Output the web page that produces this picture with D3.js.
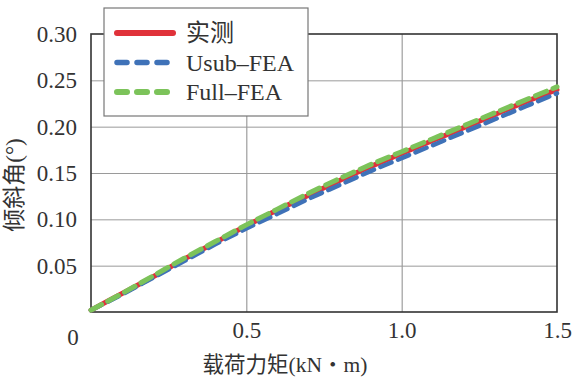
<!DOCTYPE html>
<html>
<head>
<meta charset="utf-8">
<script src="https://cdn.jsdelivr.net/npm/d3@7"></script>
<style>
  body { margin: 0; background: #fff; }
</style>
</head>
<body>
<div id="viz"></div>
<script>
// moment (kN·m) and tilt angle (deg)
var moment = [0, 0.1, 0.2, 0.3, 0.4, 0.5, 0.6, 0.7, 0.8, 0.9, 1.0, 1.1, 1.2, 1.3, 1.4, 1.5];
var measured = [0.002, 0.020, 0.038, 0.057, 0.075, 0.093, 0.110, 0.126, 0.142, 0.157, 0.171, 0.185, 0.199, 0.213, 0.227, 0.240];
var usubFEA = [0.002, 0.019, 0.037, 0.055, 0.073, 0.090, 0.106, 0.122, 0.137, 0.152, 0.166, 0.180, 0.194, 0.208, 0.222, 0.236];
var fullFEA = [0.002, 0.020, 0.039, 0.058, 0.076, 0.094, 0.111, 0.128, 0.144, 0.159, 0.173, 0.187, 0.201, 0.215, 0.229, 0.243];

var xTicks = [0.5, 1.0, 1.5];
var yTicks = [0.05, 0.10, 0.15, 0.20, 0.25, 0.30];
var seriesNames = ["实测", "Usub\u2013FEA", "Full\u2013FEA"];

var FONT = "'Liberation Serif', 'Noto Sans CJK SC', serif";
var TXT = "#333";

var width = 587, height = 387;
var margin = { top: 34, right: 30, bottom: 75, left: 91 };
var w = width - margin.left - margin.right,
  h = height - margin.top - margin.bottom;

var svg = d3.select("#viz").append("svg")
  .attr("width", width)
  .attr("height", height)
  .attr("font-family", FONT);

var g = svg.append("g")
  .attr("transform", "translate(" + margin.left + "," + margin.top + ")");

var xScale = d3.scaleLinear().domain([0, 1.5]).range([0, w]);
var yScale = d3.scaleLinear().domain([0, 0.30]).range([h, 0]);

// grid
g.append("g").attr("class", "grid")
  .attr("transform", "translate(0," + h + ")")
  .call(d3.axisBottom(xScale).tickValues([0.5, 1.0]).tickSize(-h).tickFormat(""))
  .call(function (s) { s.select(".domain").remove(); })
  .selectAll("line").attr("stroke", "#8a8a8a").attr("stroke-width", 1);

g.append("g").attr("class", "grid")
  .call(d3.axisLeft(yScale).tickValues([0.05, 0.10, 0.15, 0.20, 0.25]).tickSize(-w).tickFormat(""))
  .call(function (s) { s.select(".domain").remove(); })
  .selectAll("line").attr("stroke", "#9a9a9a").attr("stroke-width", 1);

// frame
g.append("rect")
  .attr("x", 0).attr("y", 0)
  .attr("width", w).attr("height", h)
  .attr("fill", "none")
  .attr("stroke", "#333")
  .attr("stroke-width", 1.6);

// tick labels
var xAxis = g.append("g")
  .attr("transform", "translate(0," + h + ")")
  .call(d3.axisBottom(xScale).tickValues(xTicks).tickSize(0).tickPadding(10).tickFormat(d3.format(".1f")));
xAxis.attr("font-family", FONT).attr("font-size", 23);
xAxis.select(".domain").remove();
xAxis.selectAll("text").attr("fill", TXT);

var yAxis = g.append("g")
  .call(d3.axisLeft(yScale).tickValues(yTicks).tickSize(0).tickPadding(14).tickFormat(d3.format(".2f")));
yAxis.attr("font-family", FONT).attr("font-size", 23);
yAxis.select(".domain").remove();
yAxis.selectAll("text").attr("fill", TXT);

g.append("text")
  .attr("x", -18).attr("y", h + 33)
  .attr("text-anchor", "middle")
  .attr("font-size", 23)
  .attr("fill", TXT)
  .text("0");

// axis titles
svg.append("text")
  .attr("x", 285).attr("y", 372)
  .attr("text-anchor", "middle")
  .attr("font-size", 21.5)
  .attr("fill", TXT)
  .text("载荷力矩(kN・m)");

svg.append("text")
  .attr("transform", "translate(22,185) rotate(-90)")
  .attr("text-anchor", "middle")
  .attr("font-size", 23)
  .attr("fill", TXT)
  .text("倾斜角(°)");

// lines
var line = function (vals) {
  return d3.line()
    .x(function (d, i) { return xScale(moment[i]); })
    .y(function (d) { return yScale(d); })
    .curve(d3.curveMonotoneX)(vals);
};

var series = [
  { name: seriesNames[0], vals: measured, color: "#e0323a", width: 5, dash: null },
  { name: seriesNames[1], vals: usubFEA, color: "#3f72b8", width: 4.5, dash: "12,7" },
  { name: seriesNames[2], vals: fullFEA, color: "#7cc35a", width: 5, dash: "12,7" }
];

series.forEach(function (s) {
  g.append("path")
    .attr("d", line(s.vals))
    .attr("fill", "none")
    .attr("stroke", s.color)
    .attr("stroke-width", s.width)
    .attr("stroke-linecap", "round")
    .attr("stroke-dasharray", s.dash);
});

// legend
var legend = svg.append("g");
legend.append("rect")
  .attr("x", 104).attr("y", 8)
  .attr("width", 204).attr("height", 108)
  .attr("fill", "#fff")
  .attr("stroke", "#777")
  .attr("stroke-width", 1.2);

series.forEach(function (s, i) {
  var ly = 33 + i * 29.5;
  legend.append("line")
    .attr("x1", 117).attr("x2", 173)
    .attr("y1", ly).attr("y2", ly)
    .attr("stroke", s.color)
    .attr("stroke-width", s.width + 1)
    .attr("stroke-linecap", "round")
    .attr("stroke-dasharray", s.dash ? "10,10" : null);
  legend.append("text")
    .attr("x", 186).attr("y", ly + 8)
    .attr("font-size", 24)
    .attr("fill", TXT)
    .text(s.name);
});
</script>
</body>
</html>
